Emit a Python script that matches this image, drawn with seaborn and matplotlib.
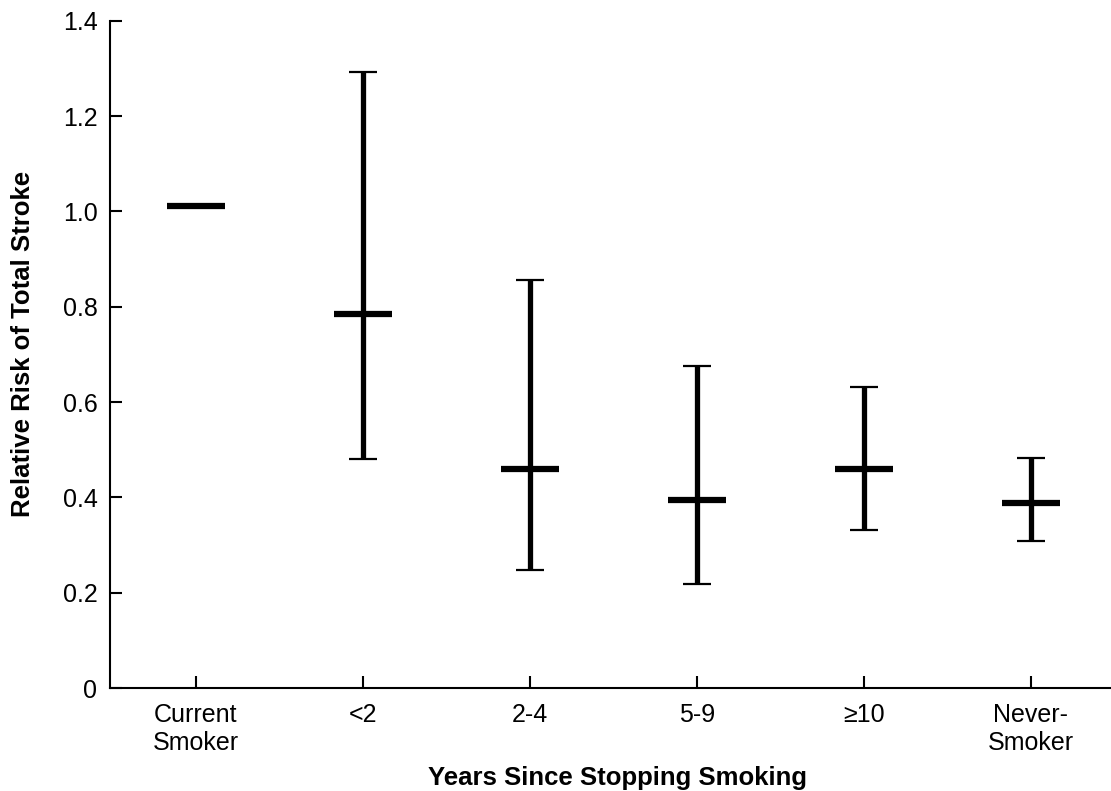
import matplotlib
matplotlib.use("Agg")
import matplotlib.pyplot as plt
import seaborn as sns
import numpy as np
import pandas as pd

categories = ["Current\nSmoker", "<2", "2-4", "5-9", "\u226510", "Never-\nSmoker"]
relative_risk = [1.012, 0.784, 0.459, 0.394, 0.459, 0.389]
ci_lower = [np.nan, 0.481, 0.247, 0.218, 0.331, 0.309]
ci_upper = [np.nan, 1.292, 0.856, 0.675, 0.632, 0.483]
y_ticks = [0, 0.2, 0.4, 0.6, 0.8, 1.0, 1.2, 1.4]
y_tick_labels = ["0", "0.2", "0.4", "0.6", "0.8", "1.0", "1.2", "1.4"]

df = pd.DataFrame({"group": categories, "rr": relative_risk,
                   "lo": ci_lower, "hi": ci_upper})

sns.set_theme(style="ticks")
plt.rcParams["font.family"] = ["Liberation Sans", "DejaVu Sans"]
plt.rcParams["text.color"] = "black"
plt.rcParams["axes.labelcolor"] = "black"

fig = plt.figure(figsize=(11.11, 7.91), dpi=100)
W, H = 1111, 791
ax = fig.add_axes([110 / W, (H - 688) / H, (W - 110) / W, (688 - 20.7) / H])

# error bars (vertical line with caps)
xpos = np.arange(len(categories))
mask = ~df["lo"].isna()
ax.errorbar(xpos[mask], df["rr"][mask],
            yerr=[df["rr"][mask] - df["lo"][mask], df["hi"][mask] - df["rr"][mask]],
            fmt="none", ecolor="black", elinewidth=3.8, capsize=10.1,
            capthick=1.6, zorder=2)

# point estimates as thick horizontal dashes
sns.scatterplot(data=df, x="group", y="rr", marker="_", s=41.5 ** 2,
                color="black", linewidth=4.5, ax=ax, zorder=3, legend=False)

ax.set_xlim(-0.515, 5.48)
ax.set_ylim(0, 1.4)
ax.set_yticks(y_ticks)
ax.set_yticklabels(y_tick_labels)
ax.set_xticks(xpos)
ax.set_xticklabels(categories)

for side in ["top", "right"]:
    ax.spines[side].set_visible(False)
for side in ["left", "bottom"]:
    ax.spines[side].set_linewidth(1.5)
    ax.spines[side].set_color("black")

ax.tick_params(axis="both", direction="in", length=8.6, width=1.5,
               colors="black", labelsize=18)
ax.tick_params(axis="x", pad=11)
ax.tick_params(axis="y", pad=9)

ax.set_xlabel("Years Since Stopping Smoking", fontsize=18.5, fontweight="bold")
ax.set_ylabel("Relative Risk of Total Stroke", fontsize=18.5, fontweight="bold")
ax.xaxis.set_label_coords(0.507, -0.117)
ax.yaxis.set_label_coords(-0.075, 0.515)

fig.savefig("out.png", dpi=100)
